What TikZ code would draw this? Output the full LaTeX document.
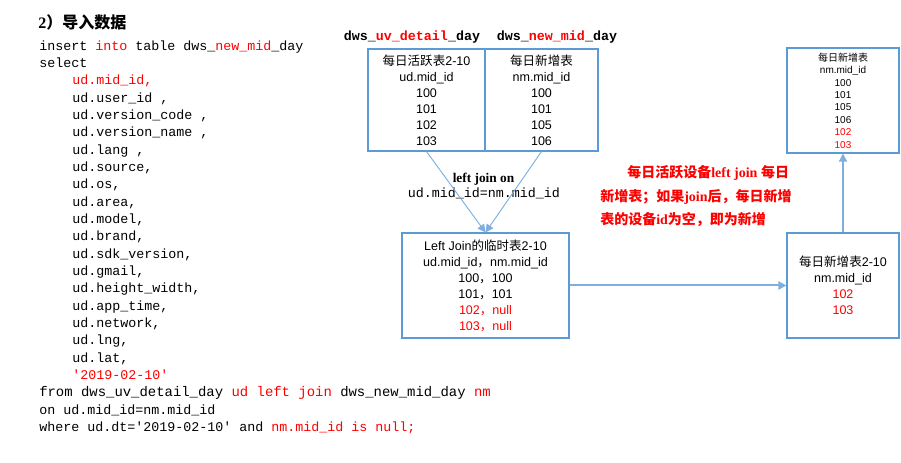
\documentclass[tikz,border=0pt]{standalone}
\usepackage{fontspec}
\setmainfont{Liberation Sans}
\newfontfamily\cjk{Noto Sans CJK SC}
\newfontfamily\codefont{Liberation Mono}
\newfontfamily\tnr{Liberation Serif}
\usetikzlibrary{arrows.meta}

\definecolor{boxblue}{HTML}{5B9BD5}
\definecolor{linkblue}{HTML}{7FAEDF}
\definecolor{hl}{HTML}{FF0000}
\newcommand{\hot}[1]{\textcolor{hl}{#1}}
\newcommand{\sq}{\textquotesingle}

\tikzset{
    code/.style={anchor=west, inner sep=0pt, text height=7pt, text depth=2pt,
        font=\codefont\fontsize{10}{12}\selectfont},
    tbl/.style={draw=boxblue, line width=0.8pt, inner sep=0pt, align=center,
        font=\fontsize{9.4}{12}\selectfont},
    note/.style={anchor=west, inner sep=0pt, text=hl, font=\fontsize{10.5}{12}\selectfont\bfseries},
    link/.style={draw=linkblue, -{Triangle[width=6pt,length=6pt]}}
}

\begin{document}
\begin{tikzpicture}[x=0.75pt, y=-0.75pt]
    \useasboundingbox (0,0) rectangle (901,463);

    % Title
    \node[anchor=west, inner sep=0pt, font=\fontsize{12}{14}\selectfont\bfseries] (title) at (38,22)
        {{\tnr 2}{\cjk ）导入数据}};

    % SQL
    \node[code] (l1) at (39,47) {insert \hot{into} table dws\_\hot{new\_mid}\_day};
    \node[code] (l2) at (39,64.3) {select};
    \node[code] (l3) at (72,81.6) {\hot{ud.mid\_id,}};
    \node[code] (l4) at (72,99.0) {ud.user\_id ,};
    \node[code] (l5) at (72,116.3) {ud.version\_code ,};
    \node[code] (l6) at (72,133.6) {ud.version\_name ,};
    \node[code] (l7) at (72,150.9) {ud.lang ,};
    \node[code] (l8) at (72,168.2) {ud.source,};
    \node[code] (l9) at (72,185.6) {ud.os,};
    \node[code] (l10) at (72,202.9) {ud.area,};
    \node[code] (l11) at (72,220.2) {ud.model,};
    \node[code] (l12) at (72,237.5) {ud.brand,};
    \node[code] (l13) at (72,254.8) {ud.sdk\_version,};
    \node[code] (l14) at (72,272.2) {ud.gmail,};
    \node[code] (l15) at (72,289.5) {ud.height\_width,};
    \node[code] (l16) at (72,306.8) {ud.app\_time,};
    \node[code] (l17) at (72,324.1) {ud.network,};
    \node[code] (l18) at (72,341.4) {ud.lng,};
    \node[code] (l19) at (72,358.8) {ud.lat,};
    \node[code] (l20) at (72,376.1) {\hot{\sq 2019-02-10\sq}};
    \node[code, font=\codefont\fontsize{10.45}{12}\selectfont] (l21) at (39,393.4)
        {from dws\_uv\_detail\_day \hot{ud left join} dws\_new\_mid\_day \hot{nm}};
    \node[code] (l22) at (39,410.7) {on ud.mid\_id=nm.mid\_id};
    \node[code] (l23) at (39,428) {where ud.dt=\sq 2019-02-10\sq{} and \hot{nm.mid\_id is null;}};

    % Source tables
    \node[code, anchor=center, font=\codefont\fontsize{10}{12}\selectfont\bfseries] (udname) at (412,37)
        {dws\_\hot{uv\_detail}\_day};
    \node[code, anchor=center, font=\codefont\fontsize{10}{12}\selectfont\bfseries] (nmname) at (557,37)
        {dws\_\hot{new\_mid}\_day};
    \node[tbl, minimum width={117*0.75pt}, minimum height={102*0.75pt}] (ud) at (426.5,100)
        {{\cjk 每日活跃表}2-10\\ud.mid\_id\\100\\101\\102\\103};
    \node[tbl, minimum width={113*0.75pt}, minimum height={102*0.75pt}] (nm) at (541.5,100)
        {{\cjk 每日新增表}\\nm.mid\_id\\100\\101\\105\\106};

    % Join result
    \node[tbl, minimum width={167*0.75pt}, minimum height={105*0.75pt}] (lj) at (485.5,285.5)
        {Left Join{\cjk 的临时表}2-10\\ud.mid\_id{\cjk ，}nm.mid\_id\\100{\cjk ，}100\\101{\cjk ，}101\\
         \hot{102{\cjk ，}null}\\\hot{103{\cjk ，}null}};
    \node[font=\tnr\fontsize{10}{12}\selectfont\bfseries, inner sep=0pt] (onlbl) at (483.5,179) {left join on};
    \node[code, anchor=center] (oncond) at (484,194) {ud.mid\_id=nm.mid\_id};

    % New ids
    \node[tbl, minimum width={112*0.75pt}, minimum height={105*0.75pt}] (nb) at (843,285.5)
        {{\cjk 每日新增表}2-10\\nm.mid\_id\\\hot{102}\\\hot{103}};
    \node[tbl, minimum width={112*0.75pt}, minimum height={105*0.75pt}, font=\fontsize{7.5}{9.3}\selectfont] (nt) at (843,100.5)
        {{\cjk 每日新增表}\\nm.mid\_id\\100\\101\\105\\106\\\hot{102}\\\hot{103}};

    % Note
    \node[note] (n1) at (627,173) {{\cjk 每日活跃设备}{\tnr left join }{\cjk 每日}};
    \node[note] (n2) at (600,197) {{\cjk 新增表；如果}{\tnr join}{\cjk 后，每日新增}};
    \node[note] (n3) at (600,220) {{\cjk 表的设备}{\tnr id}{\cjk 为空，即为新增}};

    % Arrows
    \draw[link, line width=0.7pt] (ud.south) -- (lj.north);
    \draw[link, line width=0.7pt] (nm.south) -- (lj.north);
    \draw[link, line width=1.5pt] (lj.east) -- (nb.west);
    \draw[link, line width=1pt] (nb.north) -- (nt.south);
\end{tikzpicture}
\end{document}
